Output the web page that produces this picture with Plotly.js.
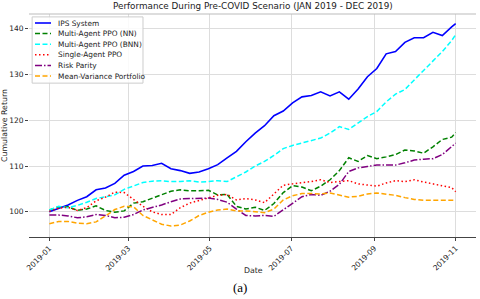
<!DOCTYPE html>
<html>
<head>
<meta charset="utf-8">
<script src="https://cdn.plot.ly/plotly-3.0.1.min.js"></script>
<style>html,body{margin:0;padding:0;background:#fff;}#chart{width:480px;height:299px;}</style>
</head>
<body>
<div id="chart"></div>
<script>
var dates = ['2019-01-01','2019-01-08','2019-01-15','2019-01-22','2019-01-29',
  '2019-02-05','2019-02-12','2019-02-19','2019-02-26',
  '2019-03-05','2019-03-12','2019-03-19','2019-03-26',
  '2019-04-02','2019-04-09','2019-04-16','2019-04-23','2019-04-30',
  '2019-05-07','2019-05-14','2019-05-21','2019-05-28',
  '2019-06-04','2019-06-11','2019-06-18','2019-06-25',
  '2019-07-02','2019-07-09','2019-07-16','2019-07-23','2019-07-30',
  '2019-08-06','2019-08-13','2019-08-20','2019-08-27',
  '2019-09-03','2019-09-10','2019-09-17','2019-09-24',
  '2019-10-01','2019-10-08','2019-10-15','2019-10-22','2019-10-29',
  '2019-11-01'];

var ipsSystem = [100.0,100.7,101.5,102.5,103.3,104.8,105.2,106.2,108.0,108.8,110.0,110.1,110.6,109.4,109.0,108.4,108.7,109.4,110.3,111.8,113.2,115.3,117.2,118.8,121.0,122.0,123.8,125.1,125.4,126.2,125.3,126.2,124.6,126.8,129.5,131.3,134.5,135.0,137.0,138.0,138.0,139.2,138.5,140.4,141.1];
var maPpoNN = [100.4,101.1,101.1,100.3,100.6,101.3,100.3,99.9,100.2,101.9,102.2,103.0,103.8,104.5,104.8,104.6,104.6,104.7,103.7,103.8,101.2,100.6,101.0,100.3,101.8,104.2,105.7,105.4,104.6,105.6,107.0,109.0,111.8,111.0,112.3,111.6,112.0,112.5,113.5,113.3,112.8,114.2,115.8,116.3,117.3];
var maPpoBNN = [100.4,101.2,100.9,101.4,102.1,102.9,103.3,103.7,104.9,105.7,106.4,106.7,106.8,106.6,106.6,106.8,106.5,106.6,106.8,106.6,107.6,108.7,110.0,111.0,112.3,113.8,114.5,115.0,115.6,116.1,117.2,118.6,118.0,119.4,120.8,121.9,124.0,125.7,126.7,128.8,130.9,133.0,135.0,137.4,138.7];
var saPpo = [100.1,100.8,101.0,100.3,100.9,102.4,103.2,104.3,104.2,102.7,101.2,100.0,99.4,99.4,100.9,101.9,102.5,103.0,103.6,103.8,102.6,102.9,102.6,102.0,104.0,105.8,106.1,106.3,106.6,107.0,106.4,106.6,106.8,106.1,105.9,105.6,106.3,106.8,106.6,107.0,106.5,106.1,105.6,105.3,104.4];
var riskParity = [99.3,99.3,99.1,98.7,98.9,99.4,99.2,98.7,98.8,99.4,100.4,100.9,101.5,102.2,102.8,102.9,102.9,103.0,102.7,102.1,100.6,99.2,99.1,99.2,99.0,100.5,102.0,103.3,103.8,103.6,104.5,106.0,108.8,109.6,109.9,110.2,110.2,110.2,110.7,111.3,111.5,111.6,112.5,114.2,115.0];
var meanVar = [97.4,97.9,97.9,97.5,97.4,97.8,99.1,100.5,101.2,101.1,99.2,98.3,97.3,96.9,97.1,98.0,99.2,99.9,100.4,100.6,100.2,100.2,100.0,99.8,100.6,102.6,103.5,104.0,104.0,103.9,104.1,103.6,103.2,103.4,103.9,104.1,103.9,103.6,103.1,102.7,102.5,102.5,102.5,102.5,102.5];

var seriesNames = ['IPS System','Multi-Agent PPO (NN)','Multi-Agent PPO (BNN)','Single-Agent PPO','Risk Parity','Mean-Variance Portfolio'];
var seriesValues = [ipsSystem, maPpoNN, maPpoBNN, saPpo, riskParity, meanVar];
var seriesColors = ['#0000ff','#008000','#00ffff','#ff0000','#800080','#ffa500'];
var seriesDash = ['solid','5px,2.5px','5px,2.5px','1.5px,2.5px','7px,2px,1.5px,2px','5px,2.5px'];
var seriesWidth = [1.6,1.5,1.5,1.5,1.5,1.5];

var traces = seriesNames.map(function(n,i){
  return {x: dates, y: seriesValues[i], type:'scatter', mode:'lines', name:n,
    line:{color:seriesColors[i], width:seriesWidth[i], dash:seriesDash[i]}};
});

var pxW = 447, pxH = 223;
var shapes = [
  {type:'rect', xref:'paper', yref:'paper', x0:0.007, x1:0.255, y0:0.69, y1:0.987,
   line:{color:'#cccccc', width:1}, fillcolor:'rgba(255,255,255,0.85)', layer:'above'},
  {type:'line', xref:'paper', yref:'paper', x0:0, x1:1, y0:1, y1:1, line:{color:'#bbbbbb', width:1}}
];
var annotations = [];
seriesNames.forEach(function(n,i){
  var yc = 1 - (9 + i*10.6)/pxH;
  shapes.push({type:'line', xref:'paper', yref:'paper', x0:6/pxW, x1:22/pxW, y0:yc, y1:yc,
    line:{color:seriesColors[i], width:seriesWidth[i], dash:seriesDash[i]}, layer:'above'});
  annotations.push({xref:'paper', yref:'paper', x:27/pxW, y:yc, text:n, showarrow:false,
    xanchor:'left', yanchor:'middle', font:{family:'DejaVu Sans', size:7.4, color:'#222'}});
});
annotations.push({xref:'paper', yref:'paper', x:0.5, y:1.005, yanchor:'bottom', xanchor:'center',
  text:'Performance During Pre-COVID Scenario (JAN 2019 - DEC 2019)', showarrow:false,
  font:{family:'DejaVu Sans', size:8.8, color:'#222'}});
annotations.push({xref:'paper', yref:'paper', x:0.503, y:-0.148, yanchor:'middle', xanchor:'center',
  text:'Date', showarrow:false, font:{family:'DejaVu Sans', size:7.8, color:'#222'}});
annotations.push({xref:'paper', yref:'paper', x:0.472, y:-0.185, yanchor:'top', xanchor:'center',
  text:'(a)', showarrow:false, font:{family:'Liberation Serif', size:13, color:'#000'}});

var layout = {
  width:480, height:299,
  margin:{l:29, r:4, t:14, b:62},
  paper_bgcolor:'#fff', plot_bgcolor:'#fff',
  showlegend:false,
  font:{family:'DejaVu Sans', size:7, color:'#333'},
  xaxis:{type:'date', range:['2018-12-16 19:00','2019-11-16 05:00'],
    tick0:'2019-01-01', dtick:'M2', tickformat:'%Y-%m', tickangle:-45,
    showgrid:true, gridcolor:'#dddddd', gridwidth:1,
    showline:true, linecolor:'#444', linewidth:1,
    ticks:'outside', ticklen:3, tickcolor:'#444', zeroline:false,
    tickfont:{size:7.5, color:'#222'}},
  yaxis:{range:[94.5,143.2], tickvals:[100,110,120,130,140],
    showgrid:true, gridcolor:'#dddddd', gridwidth:1,
    showline:false, ticks:'outside', ticklen:3, tickcolor:'#444', zeroline:false,
    tickfont:{size:7.5, color:'#222'},
    title:{text:'Cumulative Return', font:{size:7.8, color:'#222'}, standoff:1}},
  shapes:shapes,
  annotations:annotations
};

Plotly.newPlot('chart', traces, layout, {displayModeBar:false, staticPlot:true});
</script>
</body>
</html>
